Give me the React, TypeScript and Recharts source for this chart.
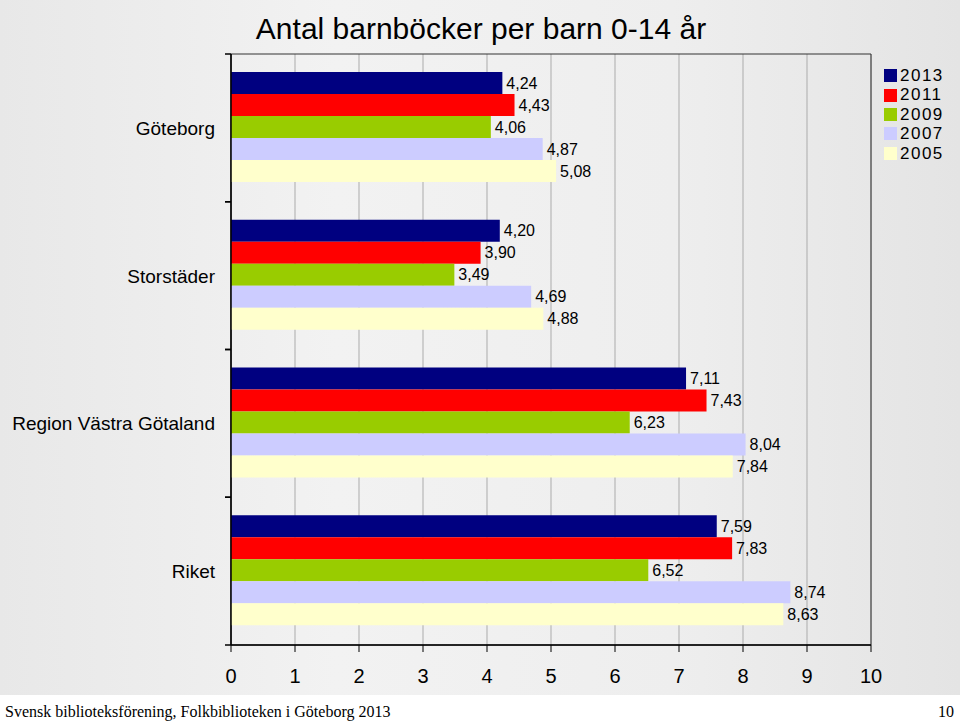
import React from "react";
import {
  BarChart,
  Bar,
  XAxis,
  YAxis,
  CartesianGrid,
  Legend,
  LabelList,
  ReferenceArea,
} from "recharts";

const categories = ["Göteborg", "Storstäder", "Region Västra Götaland", "Riket"];
const years = ["2013", "2011", "2009", "2007", "2005"];
const colors = ["#000080", "#ff0000", "#99cc00", "#ccccff", "#ffffcc"];

const v2013 = [4.24, 4.2, 7.11, 7.59];
const v2011 = [4.43, 3.9, 7.43, 7.83];
const v2009 = [4.06, 3.49, 6.23, 6.52];
const v2007 = [4.87, 4.69, 8.04, 8.74];
const v2005 = [5.08, 4.88, 7.84, 8.63];

const xTicks = [0, 1, 2, 3, 4, 5, 6, 7, 8, 9, 10];

const series = [v2013, v2011, v2009, v2007, v2005];

const data = categories.map((name, i) => {
  const row: Record<string, string | number> = { name };
  years.forEach((y, j) => {
    row[y] = series[j][i];
  });
  return row;
});

const FONT = "'Liberation Sans', Arial, sans-serif";

const fmt = (v: any) => Number(v).toFixed(2).replace(".", ",");

function CategoryTick(props: any) {
  const { x, y, payload } = props;
  const off = payload?.offset ?? 0;
  const axisX = x + 16;
  return (
    <g>
      <line x1={axisX - 6} x2={axisX} y1={y - off} y2={y - off} stroke="#000" strokeWidth={1.5} />
      <line x1={axisX - 6} x2={axisX} y1={y + off} y2={y + off} stroke="#000" strokeWidth={1.5} />
      <text x={x} y={y} dy={7} textAnchor="end" fontSize={19} fill="#000" fontFamily={FONT}>
        {payload.value}
      </text>
    </g>
  );
}

function LegendBox(props: any) {
  const payload = [...(props.payload || [])];
  const ordered = years
    .map((y) => payload.find((p: any) => p.value === y || p.dataKey === y))
    .filter(Boolean);
  return (
    <div
      style={{
        fontFamily: FONT,
        fontSize: 17,
        lineHeight: "19.4px",
        letterSpacing: 1.5,
        color: "#000",
      }}
    >
      {ordered.map((p: any) => (
        <div key={p.value} style={{ display: "flex", alignItems: "center", height: 19.4 }}>
          <span
            style={{
              display: "inline-block",
              width: 13,
              height: 13,
              background: p.color,
              marginRight: 3,
            }}
          />
          <span>{p.value}</span>
        </div>
      ))}
    </div>
  );
}

export default function App() {
  return (
    <div style={{ width: 960, height: 727, background: "#fff", fontFamily: FONT }}>
      <style>{"body{margin:0}"}</style>
      <div
        style={{
          position: "relative",
          width: 960,
          height: 695,
          background: "linear-gradient(90deg, #e8e8e8 0%, #f2f2f2 35%, #eeeeee 70%, #e4e4e4 100%)",
        }}
      >
        <div
          style={{
            position: "absolute",
            top: 12,
            left: 0,
            width: 962,
            textAlign: "center",
            fontSize: 30,
            color: "#000",
          }}
        >
          Antal barnböcker per barn 0-14 år
        </div>
        <BarChart
          width={960}
          height={695}
          data={data}
          layout="vertical"
          margin={{ top: 54, right: 89, bottom: 0, left: 0 }}
          barCategoryGap={18}
          barGap={0}
          style={{ position: "absolute", top: 0, left: 0 }}
        >
          <CartesianGrid horizontal={false} stroke="#ababab" strokeWidth={1} />
          <ReferenceArea x1={0} x2={10} fill="none" stroke="#333" strokeWidth={1} ifOverflow="visible" />
          <XAxis
            type="number"
            domain={[0, 10]}
            ticks={xTicks}
            interval={0}
            height={50}
            tickSize={7}
            tickMargin={17}
            stroke="#000"
            tick={{ fontSize: 20, fill: "#000", fontFamily: FONT }}
            axisLine={{ stroke: "#000", strokeWidth: 1.5 }}
            tickLine={{ stroke: "#000" }}
          />
          <YAxis
            type="category"
            dataKey="name"
            width={231}
            tickSize={6}
            tickMargin={10}
            tickLine={false}
            axisLine={{ stroke: "#000", strokeWidth: 1.5 }}
            tick={<CategoryTick />}
            interval={0}
          />
          <Legend
            layout="vertical"
            align="center"
            verticalAlign="middle"
            content={<LegendBox />}
            wrapperStyle={{ top: 66, left: 884, width: 76 }}
          />
          {years.map((y, j) => (
            <Bar key={y} dataKey={y} fill={colors[j]} isAnimationActive={false}>
              <LabelList
                dataKey={y}
                position="right"
                offset={4}
                formatter={fmt}
                fontSize={16}
                fill="#000"
                fontFamily={FONT}
              />
            </Bar>
          ))}
        </BarChart>
      </div>
      <div
        style={{
          position: "relative",
          height: 32,
          fontFamily: "'Liberation Serif', 'DejaVu Serif', serif",
          fontSize: 16,
          color: "#000",
        }}
      >
        <span style={{ position: "absolute", left: 5, top: 8 }}>
          Svensk biblioteksförening, Folkbiblioteken i Göteborg 2013
        </span>
        <span style={{ position: "absolute", right: 6, top: 8 }}>10</span>
      </div>
    </div>
  );
}
